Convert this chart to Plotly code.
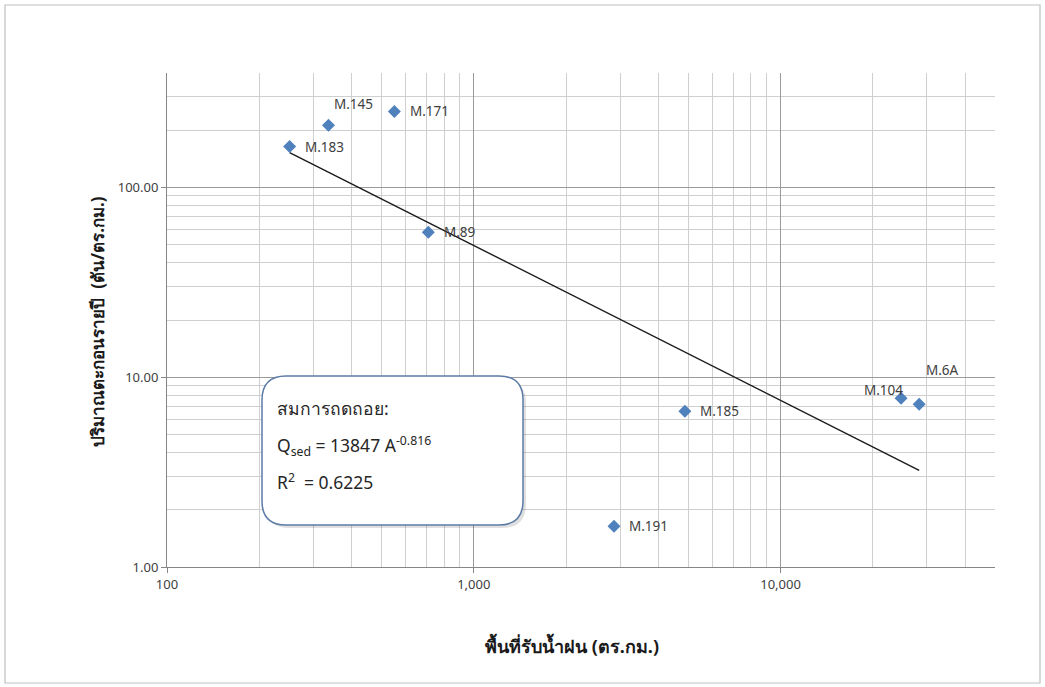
import math
import plotly.graph_objects as go

# Stations: catchment area (sq. km) and annual sediment yield (t/sq. km)
stations = ["M.183", "M.145", "M.171", "M.89", "M.191", "M.185", "M.104", "M.6A"]
area_km2 = [251, 336, 551, 711, 2865, 4876, 24700, 28300]
sediment_t_km2 = [164, 212, 251, 58, 1.64, 6.62, 7.75, 7.2]

# Power-law regression Qsed = a * A^b
coef_a = 13847
coef_b = -0.816
r_squared = 0.6225

# Label offsets (pixels) relative to each marker
label_dx = [13, 4, 14, 14, 13, 13, -39, 5]
label_dy = [0, -21, 0, 0, 0, 0, -8, -34]

FONT = "Noto Sans, DejaVu Sans, sans-serif"
TEXT_COLOR = "#404040"

fig = go.Figure()

# Trend line across the data range
trend_x = [min(area_km2), max(area_km2)]
trend_y = [coef_a * x ** coef_b for x in trend_x]
fig.add_trace(go.Scatter(
    x=trend_x, y=trend_y, mode="lines",
    line=dict(color="#1a1a1a", width=1.4),
    hoverinfo="skip", showlegend=False,
))

fig.add_trace(go.Scatter(
    x=area_km2, y=sediment_t_km2, mode="markers",
    marker=dict(symbol="diamond", size=10, color="#4f81bd"),
    text=stations, showlegend=False,
))

for name, x, y, dx, dy in zip(stations, area_km2, sediment_t_km2, label_dx, label_dy):
    fig.add_annotation(
        x=math.log10(x), y=math.log10(y),
        text=name, showarrow=False, xanchor="left", yanchor="middle",
        xshift=dx, yshift=-dy,
        font=dict(family=FONT, size=13.5, color=TEXT_COLOR),
    )

# Rounded text box with the regression equation (paper coordinates)
W, H = 828.0, 494.0
x0, x1 = (262 - 167) / W, (523 - 167) / W
y0, y1 = (567 - 525) / H, (567 - 376) / H
rx, ry = 24 / W, 24 / H


def rounded_path(xa, xb, ya, yb, rx, ry):
    return (
        f"M {xa + rx},{yb} L {xb - rx},{yb} Q {xb},{yb} {xb},{yb - ry} "
        f"L {xb},{ya + ry} Q {xb},{ya} {xb - rx},{ya} "
        f"L {xa + rx},{ya} Q {xa},{ya} {xa},{ya + ry} "
        f"L {xa},{yb - ry} Q {xa},{yb} {xa + rx},{yb} Z"
    )


sx, sy = 3 / W, 3 / H
fig.add_shape(type="path", xref="paper", yref="paper",
              path=rounded_path(x0 + sx, x1 + sx, y0 - sy, y1 - sy, rx, ry),
              fillcolor="rgba(0,0,0,0.12)", line=dict(width=0), layer="above")
fig.add_shape(type="path", xref="paper", yref="paper",
              path=rounded_path(x0, x1, y0, y1, rx, ry),
              fillcolor="white", line=dict(color="#5b7ba6", width=1.5), layer="above")

box_lines = [
    "สมการถดถอย:",
    f"Q<sub>sed</sub> = {coef_a} A<sup>{coef_b}</sup>",
    f"R<sup>2</sup>  = {r_squared}",
]
box_line_y = [408, 446, 481]
for txt, py in zip(box_lines, box_line_y):
    fig.add_annotation(
        xref="paper", yref="paper", x=(275 - 167) / W, y=(567 - py) / H,
        text=txt, showarrow=False, xanchor="left", yanchor="middle",
        font=dict(family=FONT, size=17.5, color="#262626"),
    )

# Axis titles
fig.add_annotation(
    xref="paper", yref="paper", x=(572 - 167) / W, y=(567 - 660) / H,
    text="<b>พื้นที่รับน้ำฝน (ตร.กม.)</b>", showarrow=False,
    font=dict(family=FONT, size=18, color="#1a1a1a"),
)
fig.add_annotation(
    xref="paper", yref="paper", x=(83 - 167) / W, y=(567 - 322) / H,
    text="<b>ปริมาณตะกอนรายปี  (ตัน/ตร.กม.)</b>", showarrow=False, textangle=-90,
    font=dict(family=FONT, size=17, color="#1a1a1a"),
)

# Chart border
fig.add_shape(type="rect", xref="paper", yref="paper",
              x0=(5 - 167) / W, x1=(1040 - 167) / W,
              y0=(567 - 683) / H, y1=(567 - 5) / H,
              line=dict(color="#bfbfbf", width=1.2), layer="below")

fig.update_xaxes(
    type="log", range=[2, math.log10(50000)],
    dtick=1, tickformat=",.0f",
    showgrid=True, gridcolor="#9a9a9a", gridwidth=1,
    minor=dict(dtick="D1", showgrid=True, gridcolor="#cfcfcf", gridwidth=1),
    showline=True, linecolor="#868686", linewidth=1,
    ticks="outside", ticklen=5, tickcolor="#868686",
    tickfont=dict(family=FONT, size=13, color=TEXT_COLOR),
    zeroline=False,
)
fig.update_yaxes(
    type="log", range=[0, math.log10(400)],
    dtick=1, tickformat=".2f",
    showgrid=True, gridcolor="#9a9a9a", gridwidth=1,
    minor=dict(dtick="D1", showgrid=True, gridcolor="#cfcfcf", gridwidth=1),
    showline=True, linecolor="#868686", linewidth=1,
    ticks="outside", ticklen=5, tickcolor="#868686",
    tickfont=dict(family=FONT, size=13, color=TEXT_COLOR),
    zeroline=False,
)

fig.update_layout(
    width=1045, height=687,
    margin=dict(l=167, r=50, t=73, b=120),
    paper_bgcolor="white", plot_bgcolor="white",
    showlegend=False,
)

fig.write_html("out.html")
